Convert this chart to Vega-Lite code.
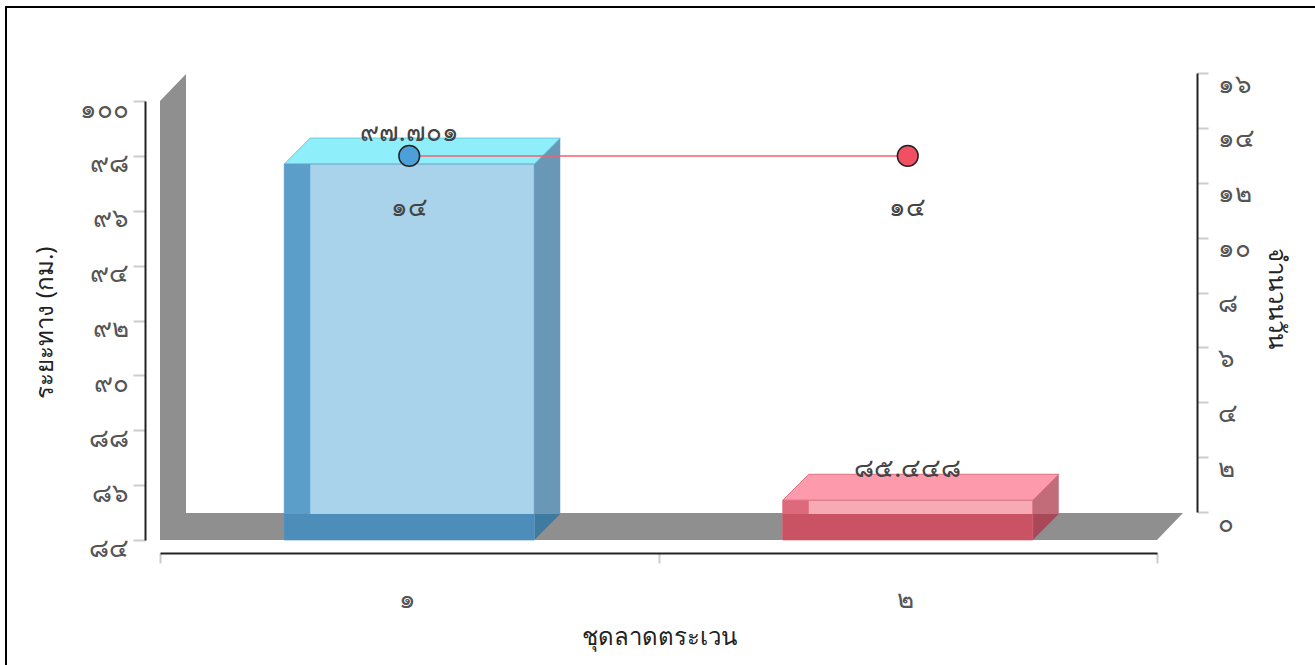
{
  "$schema": "https://vega.github.io/schema/vega-lite/v6.json",
  "autosize": "none",
  "width": 1052,
  "height": 546,
  "padding": {"left": 145, "top": 7, "right": 118, "bottom": 112},
  "background": "white",
  "config": {
    "view": {"stroke": null},
    "font": "Noto Sans"
  },
  "datasets": {
    "bars": [
      {"cat": "๑", "distance": 97.701, "label": "๙๗.๗๐๑"},
      {"cat": "๒", "distance": 85.448, "label": "๘๕.๔๔๘"}
    ],
    "days": [
      {"cat": "๑", "days": 14, "label": "๑๔"},
      {"cat": "๒", "days": 14, "label": "๑๔"}
    ],
    "frame": [{"cat": "๑"}]
  },
  "layer": [
    {
      "data": {"name": "frame"},
      "mark": {"type": "rect", "filled": false, "color": "#000000", "strokeWidth": 2},
      "encoding": {
        "x": {"datum": 0, "type": "quantitative", "scale": {"domain": [0, 1], "range": [-139, 1185]}, "axis": null},
        "x2": {"datum": 1},
        "y": {"datum": 0, "type": "quantitative", "scale": {"domain": [0, 1], "range": [0, 700]}, "axis": null},
        "y2": {"datum": 1}
      }
    },
    {
      "layer": [
        {
          "layer": [
            {
              "data": {"name": "frame"},
              "mark": {"type": "point", "shape": "M0,0 L0,-4.39 L0.26,-4.66 L0.26,-0.27 L10.23,-0.27 L9.97,0 Z", "size": 40000, "filled": true, "color": "#8f8f8f", "opacity": 1, "strokeWidth": 0},
              "encoding": {
                "x": {"field": "cat", "type": "nominal", "bandPosition": 0, "scale": {"type": "band", "domain": ["๑", "๒"], "range": [15, 1012], "paddingInner": 0, "paddingOuter": 0}},
                "y": {"datum": 84, "type": "quantitative", "scale": {"domain": [84, 100], "range": [533, 94], "nice": false, "zero": false}}
              }
            },
            {
              "data": {"name": "bars"},
              "mark": {"type": "bar", "width": 250, "xOffset": 26, "x2Offset": 26, "yOffset": -26, "y2Offset": -26},
              "encoding": {
                "x": {"field": "cat", "type": "nominal"},
                "y": {"field": "distance", "type": "quantitative"},
                "y2": {"datum": 84},
                "color": {"condition": {"test": "datum.cat === '๑'", "value": "#6898b6"}, "value": "#c26c79"}
              }
            },
            {
              "data": {"name": "bars"},
              "mark": {"type": "point", "shape": "M1.25,0 L1.51,-0.26 L1.25,-0.26 Z", "size": 40000, "filled": true, "opacity": 1, "strokeWidth": 0},
              "encoding": {
                "x": {"field": "cat", "type": "nominal"},
                "y": {"datum": 84},
                "color": {"condition": {"test": "datum.cat === '๑'", "value": "#3f7aa0"}, "value": "#a84858"}
              }
            },
            {
              "data": {"name": "bars"},
              "mark": {"type": "point", "shape": "M-1.25,0 L1.25,0 L1.51,-0.26 L-0.99,-0.26 Z", "size": 40000, "filled": true, "opacity": 1, "strokeWidth": 1},
              "encoding": {
                "x": {"field": "cat", "type": "nominal"},
                "y": {"field": "distance", "type": "quantitative"},
                "color": {"condition": {"test": "datum.cat === '๑'", "value": "#8eeefa"}, "value": "#fd9aab"},
                "stroke": {"condition": {"test": "datum.cat === '๑'", "value": "#6ccbe0"}, "value": "#e07888"}
              }
            },
            {
              "data": {"name": "bars"},
              "mark": {"type": "bar", "width": 250, "strokeWidth": 1, "strokeOpacity": 0.7},
              "encoding": {
                "x": {"field": "cat", "type": "nominal", "axis": {"orient": "bottom", "tickBand": "extent", "labelAngle": 0, "title": "ชุดลาดตระเวน", "titleFontSize": 24, "titleFontWeight": "normal", "titleColor": "#222222", "titleBaseline": "middle", "titleY": 84, "labelFontSize": 26, "labelColor": "#555555", "labelBaseline": "middle", "labelPadding": 36, "labelOffset": 6, "labelFontWeight": "normal", "tickSize": 10, "tickColor": "#cccccc", "tickWidth": 2, "domainColor": "#222222", "domainWidth": 2, "grid": false}},
                "y": {"field": "distance", "type": "quantitative", "axis": {"orient": "left", "title": "ระยะทาง (กม.)", "values": [84, 86, 88, 90, 92, 94, 96, 98, 100], "labelExpr": "replace(replace(replace(replace(replace(replace(replace(replace(replace(replace(datum.label, regexp('0','g'), '๐'), regexp('1','g'), '๑'), regexp('2','g'), '๒'), regexp('3','g'), '๓'), regexp('4','g'), '๔'), regexp('5','g'), '๕'), regexp('6','g'), '๖'), regexp('7','g'), '๗'), regexp('8','g'), '๘'), regexp('9','g'), '๙')", "labelFontSize": 26, "labelColor": "#555555", "labelFontWeight": "normal", "labelBaseline": "middle", "labelOffset": 8, "labelPadding": 5, "tickSize": 12, "tickColor": "#cccccc", "tickWidth": 2, "domainColor": "#222222", "domainWidth": 2, "grid": false, "titleFontSize": 24, "titleFontWeight": "normal", "titleColor": "#222222", "titleAngle": -90, "titleX": -100, "titleY": 315, "titleAlign": "center", "titleBaseline": "middle"}},
                "y2": {"datum": 84},
                "color": {"condition": {"test": "datum.cat === '๑'", "value": "#a8d3eb"}, "value": "#f7a9b4"},
                "stroke": {"condition": {"test": "datum.cat === '๑'", "value": "#5d98c0"}, "value": "#d06a7a"}
              }
            },
            {
              "data": {"name": "bars"},
              "mark": {"type": "bar", "width": 26, "xOffset": -112, "x2Offset": -112},
              "encoding": {
                "x": {"field": "cat", "type": "nominal"},
                "y": {"field": "distance", "type": "quantitative"},
                "y2": {"datum": 84},
                "color": {"condition": {"test": "datum.cat === '๑'", "value": "#5a9ec9"}, "value": "#dc6a7b"}
              }
            },
            {
              "data": {"name": "bars"},
              "mark": {"type": "point", "shape": "M-1.25,0 L1.25,0 L1.25,-0.26 L-1.25,-0.26 Z", "size": 40000, "filled": true, "opacity": 1, "strokeWidth": 0},
              "encoding": {
                "x": {"field": "cat", "type": "nominal"},
                "y": {"datum": 84},
                "color": {"condition": {"test": "datum.cat === '๑'", "value": "#4c8dba"}, "value": "#c95263"}
              }
            },
            {
              "data": {"name": "bars"},
              "mark": {"type": "text", "dy": -31, "baseline": "middle", "fontSize": 26, "fontWeight": "normal", "color": "#444444"},
              "encoding": {
                "x": {"field": "cat", "type": "nominal"},
                "y": {"field": "distance", "type": "quantitative"},
                "text": {"field": "label"}
              }
            }
          ]
        },
        {
          "data": {"name": "days"},
          "layer": [
            {
              "mark": {"type": "line", "color": "#f2606f", "strokeWidth": 1.5, "yOffset": 28},
              "encoding": {
                "x": {"field": "cat", "type": "nominal"},
                "y": {"field": "days", "type": "quantitative", "scale": {"domain": [0, 16], "range": [505, 66], "nice": false, "zero": false}, "axis": {"orient": "right", "title": "จำนวนวัน", "values": [0, 2, 4, 6, 8, 10, 12, 14, 16], "labelExpr": "replace(replace(replace(replace(replace(replace(replace(replace(replace(replace(datum.label, regexp('0','g'), '๐'), regexp('1','g'), '๑'), regexp('2','g'), '๒'), regexp('3','g'), '๓'), regexp('4','g'), '๔'), regexp('5','g'), '๕'), regexp('6','g'), '๖'), regexp('7','g'), '๗'), regexp('8','g'), '๘'), regexp('9','g'), '๙')", "labelFontSize": 26, "labelColor": "#555555", "labelFontWeight": "normal", "labelBaseline": "middle", "labelOffset": 11, "labelPadding": 9, "tickSize": 11, "tickColor": "#cccccc", "tickWidth": 2, "domainColor": "#222222", "domainWidth": 2, "grid": false, "titleFontSize": 24, "titleFontWeight": "normal", "titleColor": "#222222", "titleAngle": 90, "titleX": 78, "titleY": 291, "titleAlign": "center", "titleBaseline": "middle"}}
              }
            },
            {
              "mark": {"type": "point", "shape": "circle", "filled": true, "size": 430, "stroke": "#222222", "strokeWidth": 1.5, "opacity": 1, "yOffset": 28},
              "encoding": {
                "x": {"field": "cat", "type": "nominal"},
                "y": {"field": "days", "type": "quantitative"},
                "color": {"condition": {"test": "datum.cat === '๑'", "value": "#4c9fd9"}, "value": "#f24f62"}
              }
            },
            {
              "mark": {"type": "text", "yOffset": 80, "baseline": "middle", "fontSize": 26, "fontWeight": "normal", "color": "#444444"},
              "encoding": {
                "x": {"field": "cat", "type": "nominal"},
                "y": {"field": "days", "type": "quantitative"},
                "text": {"field": "label"}
              }
            }
          ]
        }
      ],
      "resolve": {"scale": {"y": "independent"}}
    }
  ],
  "resolve": {"scale": {"x": "independent", "y": "independent"}}
}
